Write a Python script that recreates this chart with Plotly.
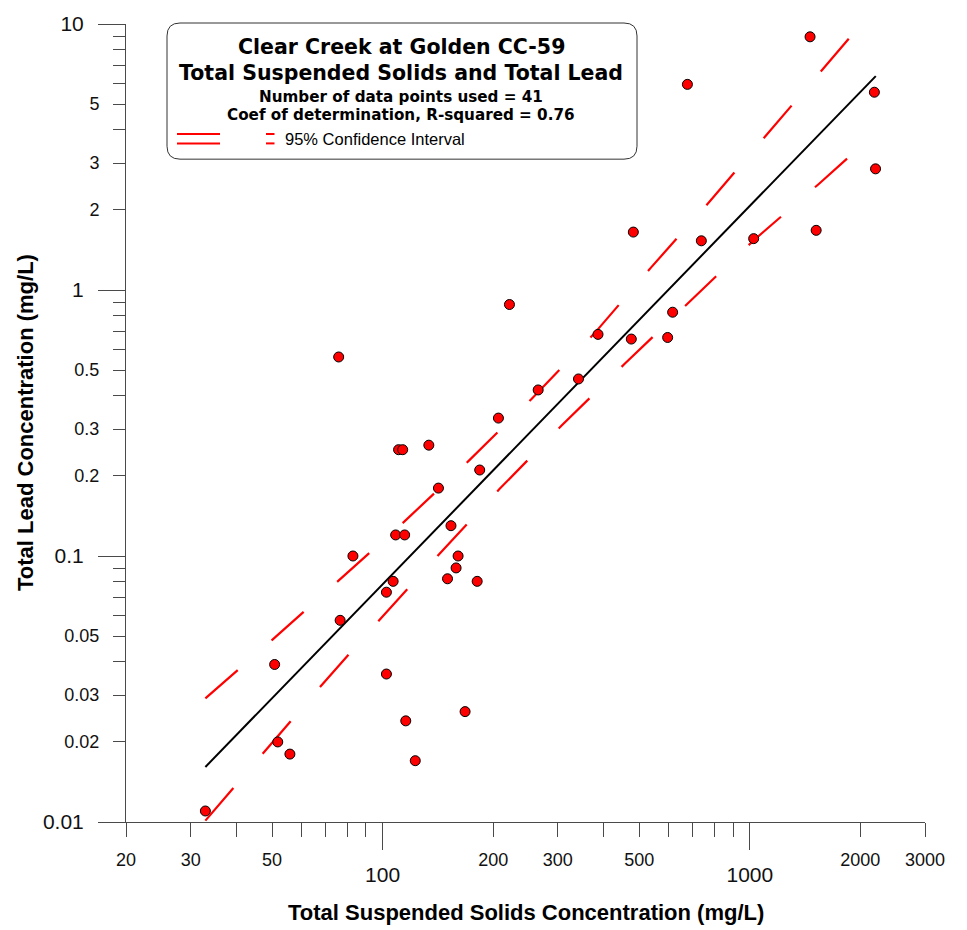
import math
import plotly.graph_objects as go

# ---------------- data ----------------
tss = [32.9, 50.8, 51.8, 55.9, 75.9, 76.6, 83.0, 102.4, 102.4, 106.8,
       108.5, 110.5, 113.4, 114.8, 115.6, 122.7, 133.6, 141.9, 150.2, 153.5,
       158.5, 160.5, 167.7, 180.9, 183.8, 206.7, 221.5, 265.2, 341.5, 386.0,
       475.6, 481.7, 597.3, 616.3, 676.1, 737.9, 1024.5, 1459, 1516, 2184,
       2200]
lead = [0.0110, 0.0391, 0.0200, 0.0180, 0.560, 0.0573, 0.100, 0.0360, 0.0731, 0.0803,
        0.120, 0.251, 0.251, 0.120, 0.0240, 0.0170, 0.261, 0.180, 0.0821, 0.130,
        0.0902, 0.100, 0.0260, 0.0803, 0.2105, 0.330, 0.882, 0.421, 0.463, 0.681,
        0.654, 1.651, 0.663, 0.825, 5.93, 1.531, 1.560, 8.95, 1.676, 5.54,
        2.854]

fit_x = [32.9, 2203]
fit_y = [0.0161, 6.37]

ci_upper_x = [32.9, 50.03, 75.7, 114.5, 171.5, 254.4, 375.3, 537.9, 776.2, 1112, 1593, 1902]
ci_upper_y = [0.02914, 0.04836, 0.0806, 0.1346, 0.2278, 0.3894, 0.681, 1.214, 2.146, 3.847, 6.90, 9.13]
ci_lower_x = [32.9, 47.1, 67.8, 98.0, 142.3, 208.0, 306.7, 456.3, 681.6, 1024.5, 1544, 1887]
ci_lower_y = [0.01012, 0.01810, 0.0324, 0.0575, 0.1013, 0.1785, 0.3086, 0.528, 0.899, 1.537, 2.509, 3.216]

x_ticks = [20, 30, 50, 200, 300, 500, 2000, 3000]
x_ticktext = ["20", "30", "50", "200", "300", "500", "2000", "3000"]
x_minor = [40, 60, 70, 80, 90, 400, 600, 700, 800, 900]
x_major = [100, 1000]
x_majortext = ["100", "1000"]

y_ticks = [0.02, 0.03, 0.05, 0.2, 0.3, 0.5, 2, 3, 5]
y_ticktext = ["0.02", "0.03", "0.05", "0.2", "0.3", "0.5", "2", "3", "5"]
y_minor = [0.04, 0.06, 0.07, 0.08, 0.09, 0.4, 0.6, 0.7, 0.8, 0.9, 4, 6, 7, 8, 9]
y_major = [0.01, 0.1, 1, 10]
y_majortext = ["0.01", "0.1", "1", "10"]

title_lines = ["Clear Creek at Golden CC-59",
               "Total Suspended Solids and Total Lead",
               "Number of data points used = 41",
               "Coef of determination, R-squared = 0.76"]
legend_text = "95% Confidence Interval"
x_title = "Total Suspended Solids Concentration (mg/L)"
y_title = "Total Lead Concentration (mg/L)"

# ---------------- layout geometry ----------------
W, H = 967, 930
ML, MR, MT, MB = 126, 42, 22, 108
PW, PH = W - ML - MR, H - MT - MB
AX = "#4a4a4a"
SANS = "Arial, Liberation Sans, sans-serif"
TFONT = "DejaVu Sans, Verdana, sans-serif"


def px(xp):
    return (xp - ML) / PW


def py(yp):
    return (MT + PH - yp) / PH


xr = [math.log10(20), math.log10(3000)]
yr = [-2, 1]

fig = go.Figure()

fig.add_trace(go.Scatter(x=ci_upper_x, y=ci_upper_y, mode="lines",
                         line=dict(color="#ff0000", width=2.2, dash="43px,45px"),
                         hoverinfo="skip"))
fig.add_trace(go.Scatter(x=ci_lower_x, y=ci_lower_y, mode="lines",
                         line=dict(color="#ff0000", width=2.2, dash="43px,45px"),
                         hoverinfo="skip"))
fig.add_trace(go.Scatter(x=fit_x, y=fit_y, mode="lines",
                         line=dict(color="#000000", width=2), hoverinfo="skip"))
fig.add_trace(go.Scatter(x=tss, y=lead, mode="markers",
                         marker=dict(color="#ff0000", size=10,
                                     line=dict(color="#000000", width=1))))
# empty trace to attach the decade-label axes
fig.add_trace(go.Scatter(x=[], y=[], xaxis="x2", yaxis="y2", hoverinfo="skip"))

common = dict(type="log", showgrid=False, zeroline=False, ticks="outside",
              tickcolor=AX, tickwidth=1, tickmode="array")

fig.update_layout(
    width=W, height=H, showlegend=False,
    margin=dict(l=ML, r=MR, t=MT, b=MB, pad=0),
    paper_bgcolor="white", plot_bgcolor="white",
    xaxis=dict(**common, range=xr, tickvals=x_ticks, ticktext=x_ticktext, ticklen=14,
               showline=True, linecolor=AX, linewidth=1, ticklabelstandoff=7,
               tickfont=dict(family=SANS, size=18, color="#111"),
               minor=dict(tickmode="array", tickvals=x_minor, ticks="outside", ticklen=14,
                          tickcolor=AX, tickwidth=1, showgrid=False)),
    xaxis2=dict(**common, range=xr, overlaying="x", side="bottom", anchor="y2",
                tickvals=x_major, ticktext=x_majortext, ticklen=27, showline=False,
                ticklabelstandoff=7,
                tickfont=dict(family=SANS, size=21, color="#111")),
    yaxis=dict(**common, range=yr, tickvals=y_ticks, ticktext=y_ticktext, ticklen=12,
               showline=True, linecolor=AX, linewidth=1, ticklabelstandoff=10,
               tickfont=dict(family=SANS, size=18, color="#111"),
               minor=dict(tickmode="array", tickvals=y_minor, ticks="outside", ticklen=12,
                          tickcolor=AX, tickwidth=1, showgrid=False)),
    yaxis2=dict(**common, range=yr, overlaying="y", side="left", anchor="x2",
                tickvals=y_major, ticktext=y_majortext, ticklen=27, showline=False,
                ticklabelstandoff=10,
                tickfont=dict(family=SANS, size=21, color="#111")),
)

# title box with rounded corners
bx0, bx1, by0, by1, r = 167, 637, 21, 157.5, 13
path = (f"M {px(bx0 + r)} {py(by0)} L {px(bx1 - r)} {py(by0)} "
        f"Q {px(bx1)} {py(by0)} {px(bx1)} {py(by0 + r)} "
        f"L {px(bx1)} {py(by1 - r)} Q {px(bx1)} {py(by1)} {px(bx1 - r)} {py(by1)} "
        f"L {px(bx0 + r)} {py(by1)} Q {px(bx0)} {py(by1)} {px(bx0)} {py(by1 - r)} "
        f"L {px(bx0)} {py(by0 + r)} Q {px(bx0)} {py(by0)} {px(bx0 + r)} {py(by0)} Z")
fig.add_shape(type="path", path=path, xref="paper", yref="paper",
              line=dict(color="#333", width=1), fillcolor="white", layer="above")

# legend sample lines
for yy in (132.3, 141.7):
    fig.add_shape(type="line", xref="paper", yref="paper", x0=px(177), x1=px(220),
                  y0=py(yy), y1=py(yy), line=dict(color="#ff0000", width=2), layer="above")
    fig.add_shape(type="line", xref="paper", yref="paper", x0=px(266), x1=px(274.5),
                  y0=py(yy), y1=py(yy), line=dict(color="#ff0000", width=2), layer="above")

title_y = [45.5, 71, 95.5, 113]
title_sz = [20.5, 20.5, 15.2, 15.2]
for t, yy, sz in zip(title_lines, title_y, title_sz):
    fig.add_annotation(text=f"<b>{t}</b>", xref="paper", yref="paper", x=px(401), y=py(yy),
                       xanchor="center", yanchor="middle", showarrow=False,
                       font=dict(family=TFONT, size=sz, color="#000"))
fig.add_annotation(text=legend_text, xref="paper", yref="paper", x=px(283), y=py(137.5),
                   xanchor="left", yanchor="middle", showarrow=False,
                   font=dict(family=SANS, size=16.5, color="#000"))

# axis titles
fig.add_annotation(text=f"<b>{x_title}</b>", xref="paper", yref="paper", x=0.5, y=py(913),
                   xanchor="center", yanchor="middle", showarrow=False,
                   font=dict(family=SANS, size=22, color="#000"))
fig.add_annotation(text=f"<b>{y_title}</b>", xref="paper", yref="paper", x=px(25), y=py(422),
                   xanchor="center", yanchor="middle", showarrow=False, textangle=-90,
                   font=dict(family=SANS, size=22, color="#000"))

fig.write_html("out.html")
